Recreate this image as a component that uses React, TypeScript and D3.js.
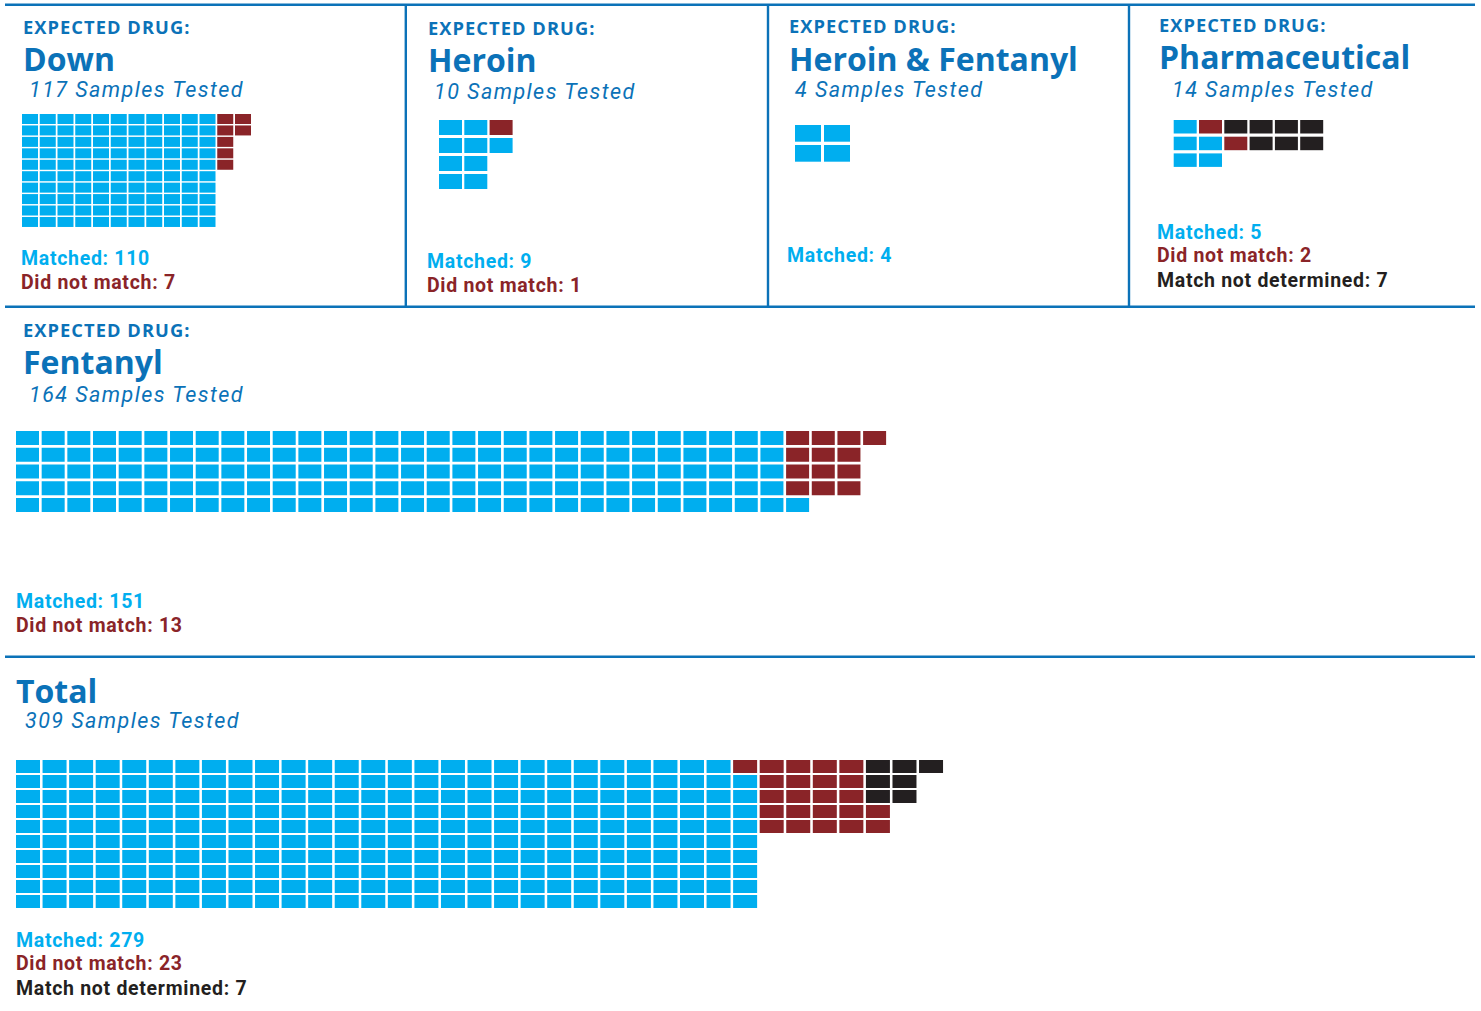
import React from "react";
import * as d3 from "d3";

// ---------- DATA ----------
const drugNames = ["Down", "Heroin", "Heroin & Fentanyl", "Pharmaceutical", "Fentanyl", "Total"];
const samplesTested = [117, 10, 4, 14, 164, 309];
const matchedCounts = [110, 9, 4, 5, 151, 279];
const didNotMatchCounts = [7, 1, 0, 2, 13, 23];
const notDeterminedCounts = [0, 0, 0, 7, 0, 7];
const showEyebrow = [true, true, true, true, true, false];

// Waffle columns, top-to-bottom (M matched, D did not match, N not determined, . empty), run-length
const downColumns: [string, number][] = [["MMMMMMMMMM", 11], ["DDDDD.....", 1], ["DD........", 1]];
const heroinColumns: [string, number][] = [["MMMM", 2], ["DM..", 1]];
const heroinFentanylColumns: [string, number][] = [["MM", 2]];
const pharmaColumns: [string, number][] = [["MMM", 1], ["DMM", 1], ["ND.", 1], ["NN.", 3]];
const fentanylColumns: [string, number][] = [["MMMMM", 30], ["DDDDM", 1], ["DDDD.", 2], ["D....", 1]];
const totalColumns: [string, number][] = [
  ["MMMMMMMMMM", 27],
  ["DMMMMMMMMM", 1],
  ["DDDDD.....", 4],
  ["NNNDD.....", 1],
  ["NNN.......", 1],
  ["N.........", 1],
];
const waffleColumns = [downColumns, heroinColumns, heroinFentanylColumns, pharmaColumns, fentanylColumns, totalColumns];

// ---------- STYLE / LAYOUT ----------
const W = 1481;
const H = 1011;
const DARK_BLUE = "#0b72b8";
const CELL_COLORS: Record<string, string> = { M: "#00aeef", D: "#8a2428", N: "#231f20" };
const LABEL_COLORS = ["#00aeef", "#8a2428", "#231f20"];
const FONT = "'Open Sans', 'Noto Sans', sans-serif";
const SUB_FONT = "Roboto, 'Noto Sans', sans-serif";

interface PanelLayout {
  textX: number;
  eyebrowY: number;
  titleY: number;
  subX: number;
  subY: number;
  gx: number;
  gy: number;
  px: number;
  py: number;
  cw: number;
  ch: number;
  labelX: number;
  labelY: number[];
}

const layouts: PanelLayout[] = [
  { textX: 23, eyebrowY: 34, titleY: 71, subX: 29, subY: 97, gx: 22, gy: 114, px: 17.75, py: 11.44, cw: 16, ch: 10, labelX: 21, labelY: [265, 289] },
  { textX: 428, eyebrowY: 35, titleY: 72, subX: 434, subY: 99, gx: 439, gy: 120, px: 25.3, py: 18, cw: 23, ch: 15, labelX: 427, labelY: [268, 292] },
  { textX: 789, eyebrowY: 33, titleY: 71, subX: 795, subY: 97, gx: 795, gy: 125, px: 29, py: 20, cw: 26, ch: 16.7, labelX: 787, labelY: [262] },
  { textX: 1159, eyebrowY: 32, titleY: 69, subX: 1172, subY: 97, gx: 1173.7, gy: 120, px: 25.3, py: 16.7, cw: 23, ch: 13.5, labelX: 1157, labelY: [238.5, 262, 287] },
  { textX: 23, eyebrowY: 337, titleY: 374, subX: 29, subY: 402, gx: 16, gy: 431, px: 25.67, py: 16.75, cw: 23, ch: 14, labelX: 16, labelY: [608, 632] },
  { textX: 16, eyebrowY: 0, titleY: 703, subX: 25, subY: 728, gx: 16, gy: 760, px: 26.56, py: 15, cw: 24, ch: 13, labelX: 16, labelY: [946.5, 970, 994.5] },
];

const hLines = [
  { y: 4.8, x1: 5, x2: 1475 },
  { y: 306.7, x1: 5, x2: 1475 },
  { y: 656.7, x1: 5, x2: 1475 },
];
const vLines = [405.8, 768, 1129];

function expandColumns(cols: [string, number][]): string[] {
  const out: string[] = [];
  cols.forEach(([pattern, n]) => {
    for (let i = 0; i < n; i++) out.push(pattern);
  });
  return out;
}

function Panel({ idx }: { idx: number }) {
  const L = layouts[idx];
  const cols = expandColumns(waffleColumns[idx]);
  const nRows = cols[0].length;
  const x = d3.scaleLinear().domain([0, 1]).range([L.gx, L.gx + L.px]);
  const y = d3.scaleLinear().domain([0, 1]).range([L.gy, L.gy + L.py]);
  const cells: { c: number; r: number; k: string }[] = [];
  cols.forEach((pattern, c) => {
    for (let r = 0; r < nRows; r++) {
      const k = pattern[r];
      if (k !== ".") cells.push({ c, r, k });
    }
  });
  const labels: { text: string; color: string }[] = [];
  labels.push({ text: `Matched: ${matchedCounts[idx]}`, color: LABEL_COLORS[0] });
  if (didNotMatchCounts[idx] > 0) labels.push({ text: `Did not match: ${didNotMatchCounts[idx]}`, color: LABEL_COLORS[1] });
  if (notDeterminedCounts[idx] > 0) labels.push({ text: `Match not determined: ${notDeterminedCounts[idx]}`, color: LABEL_COLORS[2] });

  return (
    <g>
      {showEyebrow[idx] && (
        <text x={L.textX} y={L.eyebrowY} fill={DARK_BLUE} fontFamily={FONT} fontWeight={700} fontSize={18.3} letterSpacing={1.05}>
          EXPECTED DRUG:
        </text>
      )}
      <text x={L.textX} y={L.titleY} fill={DARK_BLUE} fontFamily={FONT} fontWeight={700} fontSize={32} letterSpacing={0}>
        {drugNames[idx]}
      </text>
      <text x={L.subX} y={L.subY} fill={DARK_BLUE} fontFamily={SUB_FONT} fontStyle="italic" fontWeight={400} fontSize={21.5} letterSpacing={1.45}>
        {`${samplesTested[idx]} Samples Tested`}
      </text>
      {cells.map((d, i) => (
        <rect key={i} x={x(d.c)} y={y(d.r)} width={L.cw} height={L.ch} fill={CELL_COLORS[d.k]} />
      ))}
      {labels.map((l, i) => (
        <text key={i} x={L.labelX} y={L.labelY[i]} fill={l.color} fontFamily={SUB_FONT} fontWeight={700} fontSize={19.5} letterSpacing={0.7}>
          {l.text}
        </text>
      ))}
    </g>
  );
}

export default function App() {
  return (
    <svg width={W} height={H} style={{ position: "absolute", left: 0, top: 0, background: "#fff" }}>
      <rect x={0} y={0} width={W} height={H} fill="#fff" />
      {hLines.map((l, i) => (
        <line key={"h" + i} x1={l.x1} x2={l.x2} y1={l.y} y2={l.y} stroke={DARK_BLUE} strokeWidth={2.4} />
      ))}
      {vLines.map((vx, i) => (
        <line key={"v" + i} x1={vx} x2={vx} y1={4.8} y2={306.7} stroke={DARK_BLUE} strokeWidth={2.4} />
      ))}
      {drugNames.map((_, i) => (
        <Panel key={i} idx={i} />
      ))}
    </svg>
  );
}
